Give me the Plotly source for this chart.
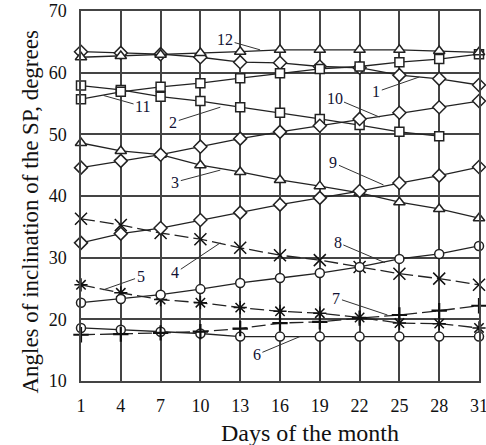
import plotly.graph_objects as go

days = [1, 4, 7, 10, 13, 16, 19, 22, 25, 28, 31]
s1 = [63.4, 63.2, 63.0, 62.5, 61.7, 61.6, 61.0, 60.8, 59.6, 59.0, 58.0]
s2 = [57.9, 57.2, 56.1, 55.4, 54.4, 53.5, 52.5, 51.5, 50.4, 49.7]
s3 = [48.6, 47.3, 46.7, 45.0, 43.9, 42.6, 41.6, 40.5, 39.0, 37.9, 36.4]
s4 = [36.3, 35.3, 34.0, 33.0, 31.6, 30.4, 29.6, 28.5, 27.4, 26.6, 25.6]
s5 = [25.6, 24.3, 23.2, 22.7, 21.9, 21.3, 21.0, 20.3, 19.4, 19.3, 18.6]
s6 = [18.6, 18.3, 18.0, 17.7, 17.2, 17.2, 17.2, 17.2, 17.2, 17.2, 17.2]
s7 = [17.5, 17.6, 17.8, 18.0, 18.5, 19.4, 19.6, 20.2, 20.7, 21.4, 22.2]
s8 = [22.7, 23.3, 24.0, 24.9, 25.9, 26.7, 27.5, 28.5, 29.8, 30.6, 31.9]
s9 = [32.4, 33.9, 34.8, 36.1, 37.3, 38.6, 39.7, 40.8, 42.1, 43.3, 44.7]
s10 = [44.6, 45.7, 46.7, 48.0, 49.3, 50.4, 51.4, 52.5, 53.5, 54.4, 55.4]
s11 = [55.7, 56.9, 57.7, 58.3, 59.1, 59.9, 60.6, 61.0, 61.7, 62.2, 63.0]
s12 = [62.5, 62.7, 62.9, 63.2, 63.4, 63.7, 63.7, 63.7, 63.7, 63.5, 63.3]

x_ticks = [1, 4, 7, 10, 13, 16, 19, 22, 25, 28, 31]
y_ticks = [10, 20, 30, 40, 50, 60, 70]

x_title = "Days of the month"
y_title = "Angles of inclination of the SP, degrees"

series = [
    ("1", s1, "diamond", "solid"),
    ("2", s2, "square", "solid"),
    ("3", s3, "triangle-up", "solid"),
    ("4", s4, "x-thin", "14px,5px"),
    ("5", s5, "asterisk", "14px,5px"),
    ("6", s6, "circle", "solid"),
    ("7", s7, "cross-thin", "14px,5px"),
    ("8", s8, "circle", "solid"),
    ("9", s9, "diamond", "solid"),
    ("10", s10, "diamond", "solid"),
    ("11", s11, "square", "solid"),
    ("12", s12, "triangle-up", "solid"),
]

# label: (text, tip_day, tip_value, ax, ay)
labels = [
    ("12", 14.5, 63.7, -35, -10),
    ("11", 2.7, 56.3, 39, 11),
    ("2", 11.5, 54.4, -47, 15),
    ("1", 26.5, 59.3, -43, 15),
    ("10", 23.5, 52.8, -45, -19),
    ("3", 11.5, 44.2, -45, 12),
    ("4", 11.5, 32.4, -45, 30),
    ("5", 2.7, 24.8, 37, -13),
    ("9", 23.8, 41.8, -50, -22),
    ("8", 23.9, 29.2, -47, -20),
    ("7", 24.1, 20.7, -51, -17),
    ("6", 17.5, 17.2, -43, 18),
]

SERIF = "Liberation Serif"

fig = go.Figure()
for name, vals, sym, dash in series:
    thin = sym in ("x-thin", "cross-thin", "asterisk")
    size = {"x-thin": 12, "cross-thin": 11, "asterisk": 11,
            "triangle-up": 10, "diamond": 10}.get(sym, 9)
    lw = 2.2 if sym == "cross-thin" else 1.5
    fig.add_trace(go.Scatter(
        x=days[:len(vals)], y=vals, mode="lines+markers", name=name,
        line=dict(color="#222222", width=1.3, dash=dash),
        marker=dict(symbol=sym, size=size,
                    color="#111111" if thin else "white",
                    line=dict(color="#111111" if thin else "#222222", width=lw)),
        showlegend=False, cliponaxis=False,
    ))

for t, xd, yv, ax, ay in labels:
    fig.add_annotation(x=xd, y=yv, text=t, showarrow=True, arrowhead=0,
                       arrowwidth=1, arrowcolor="#333333", ax=ax, ay=ay,
                       font=dict(family=SERIF, size=16, color="#111133"))

# axis titles as paper-anchored text
fig.add_annotation(text=x_title, xref="paper", yref="paper", x=0.575, y=-0.141,
                   showarrow=False, xanchor="center", yanchor="middle",
                   font=dict(family=SERIF, size=24, color="#111111"))
fig.add_annotation(text=y_title, xref="paper", yref="paper", x=-0.128, y=0.458,
                   showarrow=False, xanchor="center", yanchor="middle", textangle=-90,
                   font=dict(family=SERIF, size=23, color="#111111"))

fig.update_layout(
    width=486, height=445,
    margin=dict(l=81, r=7, t=11, b=64),
    paper_bgcolor="white", plot_bgcolor="white",
    font=dict(family=SERIF, size=18, color="#111111"),
)
fig.update_xaxes(range=[1, 31], tickvals=x_ticks, showgrid=True, gridcolor="#444444",
                 gridwidth=1.5, zeroline=False, showline=True, linecolor="#444444",
                 linewidth=1.5, mirror=True, ticks="", ticklabelstandoff=8,
                 automargin=False, ticklabeloverflow="allow",
                 tickfont=dict(family=SERIF, size=18, color="#111111"))
fig.update_yaxes(range=[10, 70], tickvals=y_ticks, showgrid=True, gridcolor="#444444",
                 gridwidth=1.5, zeroline=False, showline=True, linecolor="#444444",
                 linewidth=1.5, mirror=True, ticks="", ticklabelstandoff=9,
                 automargin=False, ticklabeloverflow="allow",
                 tickfont=dict(family=SERIF, size=18, color="#111111"))

fig.write_html("out.html")
